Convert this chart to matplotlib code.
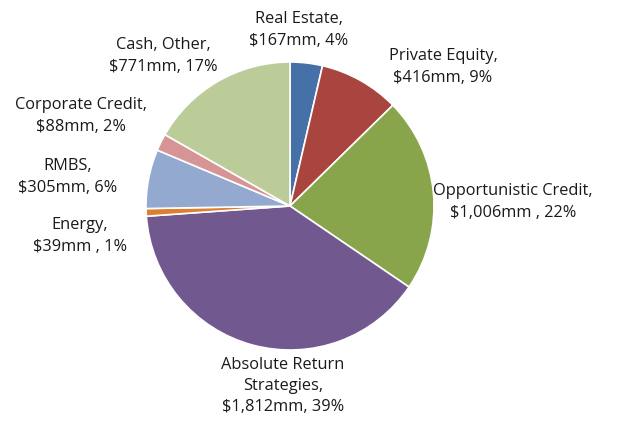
import matplotlib
matplotlib.use("Agg")
import matplotlib.pyplot as plt

# Portfolio allocation ($mm), clockwise from 12 o'clock
names = ["Real Estate", "Private Equity", "Opportunistic Credit",
         "Absolute Return Strategies", "Energy", "RMBS",
         "Corporate Credit", "Cash, Other"]
values = [167, 416, 1006, 1812, 39, 305, 88, 771]
labels = ["Real Estate,\n$167mm, 4%",
          "Private Equity,\n$416mm, 9%",
          "Opportunistic Credit,\n$1,006mm , 22%",
          "Absolute Return\nStrategies,\n$1,812mm, 39%",
          "Energy,\n$39mm , 1%",
          "RMBS,\n$305mm, 6%",
          "Corporate Credit,\n$88mm, 2%",
          "Cash, Other,\n$771mm, 17%"]
colors = ["#4570A8", "#A9443F", "#89A54B", "#71588F",
          "#DC7F31", "#93A9D0", "#D69594", "#BBCC98"]

# label centres in pixels (x, y from top)
label_px = [(299, 30), (443, 67), (513, 202), (283, 386),
            (80, 236), (68, 177), (81, 116), (163, 56)]

W, H = 618, 426
cx, cy, r = 290, 206, 144

plt.rcParams["font.family"] = ["Open Sans", "DejaVu Sans"]
fig = plt.figure(figsize=(W / 100, H / 100), dpi=100)
ax = fig.add_axes([(cx - r) / W, (H - cy - r) / H, 2 * r / W, 2 * r / H])
ax.pie(values, colors=colors, startangle=90, counterclock=False,
       radius=1, wedgeprops={"edgecolor": "white", "linewidth": 1.2})
ax.set_xlim(-1, 1)
ax.set_ylim(-1, 1)
ax.set_aspect("equal")
ax.axis("off")

for text, (px, py) in zip(labels, label_px):
    ax.text((px - cx) / r, (cy - py) / r, text, ha="center", va="center",
            fontsize=11.8, color="#1a1a1a", linespacing=1.45, clip_on=False)

fig.savefig("out.png", dpi=100)
